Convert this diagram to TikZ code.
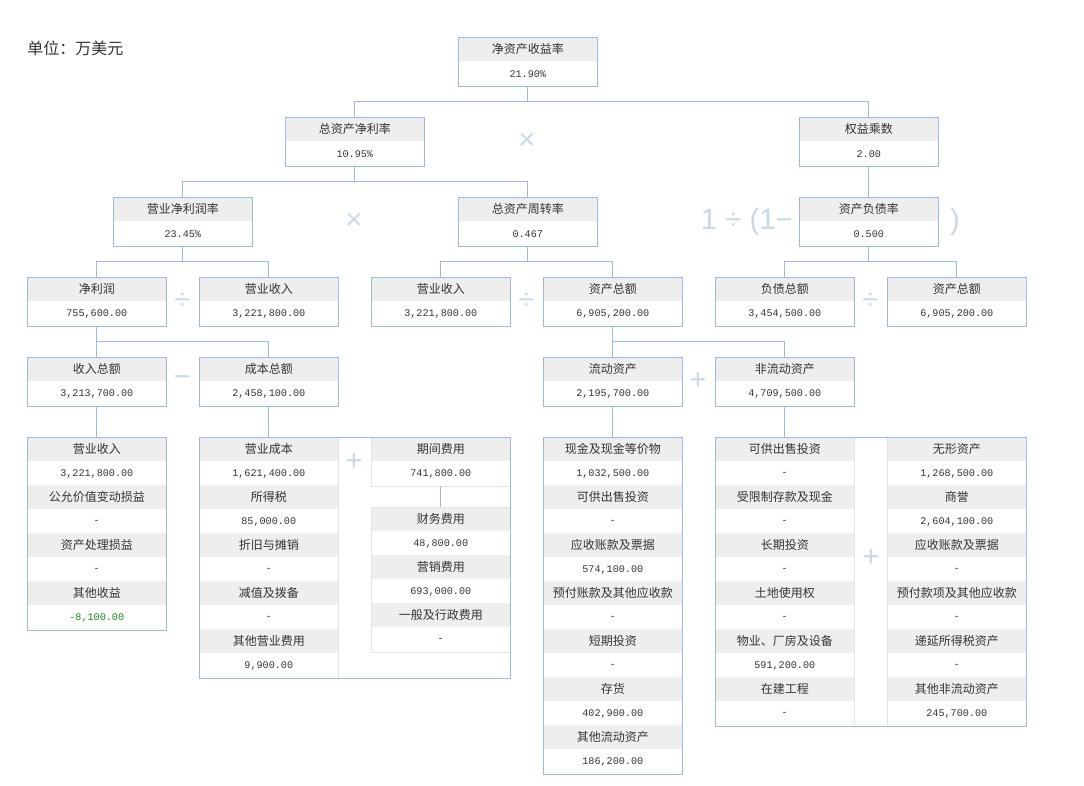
\documentclass[tikz,border=0pt]{standalone}
\usepackage{fontspec}
\setmainfont{Noto Sans CJK SC}
\newfontfamily\numfont{Liberation Mono}
\newfontfamily\opfont{Liberation Sans}
\usetikzlibrary{positioning}

\definecolor{lineblue}{HTML}{9BBBE0}
\definecolor{hdrgray}{HTML}{EEEEEE}
\definecolor{opblue}{HTML}{C9DAE6}
\definecolor{sepgray}{HTML}{E4E4E4}
\definecolor{txtgray}{HTML}{333333}
\definecolor{posgreen}{HTML}{1A8A1A}

% one ratio: title row and value row
\newcommand{\ratiobox}[5]{%
  \node[hdr] (#1) at (#2,#3) {#4};
  \node[val, below=0pt of #1] (#1v) {#5};
  \draw[boxline] (#1.north west) rectangle (#1v.south east);
}
% a column of title/value pairs
\newcommand{\itemcol}[4]{%
  \foreach \t/\v [count=\i] in {#4}
    {\node[hdr] (#1\i) at (#2,{#3+48*(\i-1)}) {\t};
     \node[val, below=0pt of #1\i] (#1v\i) {\v};}
}

\begin{document}
\begin{tikzpicture}[x=0.75pt,y=-0.75pt,
  hdr/.style={anchor=north west, fill=hdrgray, minimum width=104.25pt, minimum height=18pt,
    inner sep=0pt, text=txtgray, font=\fontsize{9}{10}\selectfont},
  val/.style={fill=white, minimum width=104.25pt, minimum height=18pt, inner sep=0pt,
    text=txtgray, font=\numfont\fontsize{7.6}{9}\selectfont},
  boxline/.style={draw=lineblue, line width=0.75pt},
  conn/.style={draw=lineblue, line width=0.75pt},
  sepline/.style={draw=sepgray, line width=0.75pt},
  op/.style={text=opblue, inner sep=0pt, font=\opfont\fontsize{22}{22}\selectfont}]
\useasboundingbox[fill=white] (0,0) rectangle (1084,785);

\node[anchor=west, inner sep=0pt, text=txtgray, font=\fontsize{12}{12}\selectfont] (unit) at (27,48) {单位：万美元};

% ratio tree
\ratiobox{roe}{458}{37}{净资产收益率}{21.90\%}
\ratiobox{roa}{285}{117}{总资产净利率}{10.95\%}
\ratiobox{em}{799}{117}{权益乘数}{2.00}
\ratiobox{npm}{113}{197}{营业净利润率}{23.45\%}
\ratiobox{tat}{458}{197}{总资产周转率}{0.467}
\ratiobox{dar}{799}{197}{资产负债率}{0.500}
\ratiobox{np}{27}{277}{净利润}{755,600.00}
\ratiobox{revA}{199}{277}{营业收入}{3,221,800.00}
\ratiobox{revB}{371}{277}{营业收入}{3,221,800.00}
\ratiobox{taA}{543}{277}{资产总额}{6,905,200.00}
\ratiobox{tl}{715}{277}{负债总额}{3,454,500.00}
\ratiobox{taB}{887}{277}{资产总额}{6,905,200.00}
\ratiobox{ti}{27}{357}{收入总额}{3,213,700.00}
\ratiobox{tc}{199}{357}{成本总额}{2,458,100.00}
\ratiobox{ca}{543}{357}{流动资产}{2,195,700.00}
\ratiobox{nca}{715}{357}{非流动资产}{4,709,500.00}

% detail lists
\itemcol{A}{27}{437}{营业收入/{3,221,800.00}, 公允价值变动损益/-, 资产处理损益/-,
  其他收益/{\textcolor{posgreen}{-8,100.00}}}
\itemcol{B}{199}{437}{营业成本/{1,621,400.00}, 所得税/{85,000.00}, 折旧与摊销/-,
  减值及拨备/-, 其他营业费用/{9,900.00}}
\itemcol{P}{371}{437}{期间费用/{741,800.00}}
\itemcol{Q}{371}{507}{财务费用/{48,800.00}, 营销费用/{693,000.00}, 一般及行政费用/-}
\itemcol{C}{543}{437}{现金及现金等价物/{1,032,500.00}, 可供出售投资/-, 应收账款及票据/{574,100.00},
  预付账款及其他应收款/-, 短期投资/-, 存货/{402,900.00}, 其他流动资产/{186,200.00}}
\itemcol{L}{715}{437}{可供出售投资/-, 受限制存款及现金/-, 长期投资/-, 土地使用权/-,
  物业、厂房及设备/{591,200.00}, 在建工程/-}
\itemcol{R}{887}{437}{无形资产/{1,268,500.00}, 商誉/{2,604,100.00}, 应收账款及票据/-,
  预付款项及其他应收款/-, 递延所得税资产/-, 其他非流动资产/{245,700.00}}

\draw[sepline] (B1.north east) -- (Bv5.south east);
\draw[sepline] (P1.north west) rectangle (Pv1.south east);
\draw[sepline] (Q1.north west) rectangle (Qv3.south east);
\draw[sepline] (L1.north east) -- (Lv6.south east);
\draw[sepline] (R1.north west) -- (Rv6.south west);

\draw[boxline] (A1.north west) rectangle (Av4.south east);
\draw[boxline] (B1.north west) rectangle (Bv5.south -| P1.east);
\draw[boxline] (C1.north west) rectangle (Cv7.south east);
\draw[boxline] (L1.north west) rectangle (Rv6.south east);

% connectors
\draw[conn] (roev.south) -- ++(0,15) -| (roa.north);
\draw[conn] (roev.south) -- ++(0,15) -| (em.north);
\draw[conn] (roav.south) -- ++(0,15) -| (npm.north);
\draw[conn] (roav.south) -- ++(0,15) -| (tat.north);
\draw[conn] (emv.south) -- (dar.north);
\draw[conn] (npmv.south) -- ++(0,15) -| (np.north);
\draw[conn] (npmv.south) -- ++(0,15) -| (revA.north);
\draw[conn] (tatv.south) -- ++(0,15) -| (revB.north);
\draw[conn] (tatv.south) -- ++(0,15) -| (taA.north);
\draw[conn] (darv.south) -- ++(0,15) -| (tl.north);
\draw[conn] (darv.south) -- ++(0,15) -| (taB.north);
\draw[conn] (npv.south) -- ++(0,15) -| (ti.north);
\draw[conn] (npv.south) -- ++(0,15) -| (tc.north);
\draw[conn] (taAv.south) -- ++(0,15) -| (ca.north);
\draw[conn] (taAv.south) -- ++(0,15) -| (nca.north);
\draw[conn] (tiv.south) -- (A1.north);
\draw[conn] (tcv.south) -- (B1.north);
\draw[conn] (cav.south) -- (C1.north);
\draw[conn] (ncav.south) -- (L1.north);
\draw[conn] (Pv1.south) -- (Q1.north);

% operators
\node[op] (mul1) at (527,141) {×};
\node[op] (mul2) at (354,221) {×};
\node[op, anchor=east] (inv) at (793,222) {1 ÷ (1−};
\node[op] (rpar) at (955,222) {)};
\node[op] (div1) at (182.5,301) {÷};
\node[op] (div2) at (526.5,301) {÷};
\node[op] (div3) at (870.5,301) {÷};
\node[op] (minus) at (182.5,381) {−};
\node[op] (plus1) at (698,381) {+};
\node[op] (plus2) at (354,462) {+};
\node[op] (plus3) at (871,558) {+};
\end{tikzpicture}
\end{document}
